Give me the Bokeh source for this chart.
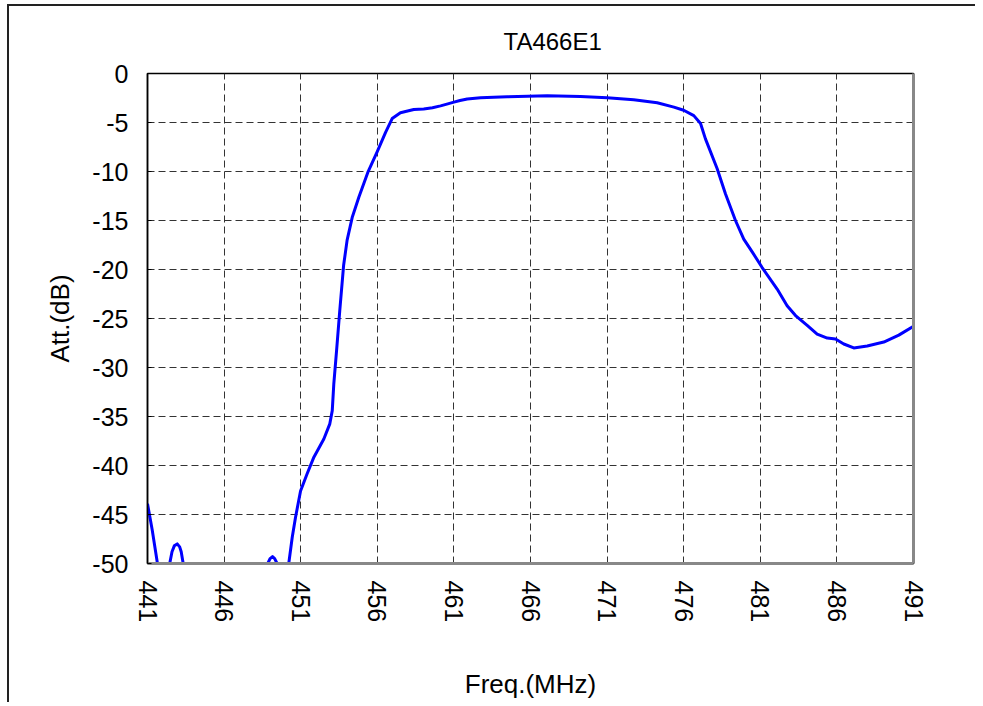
import math
from bokeh.plotting import figure
from bokeh.models import Range1d, FixedTicker, LinearAxis, ColumnDataSource
from bokeh.embed import file_html
from bokeh.resources import INLINE

# ---- data ----
freq_mhz = [441.0, 441.3, 441.65, 441.9, 442.15, 442.3, 442.45, 442.6, 442.75, 442.94,
            443.1, 443.2, 443.33, 443.5, 444.0, 446.0, 448.3, 448.6, 448.85, 449.0,
            449.16, 449.3, 449.46, 449.65, 449.95, 450.22, 450.45, 450.66, 450.99,
            451.42, 451.86, 452.51, 452.9, 453.06, 453.16, 453.34, 453.55, 453.8,
            454.03, 454.36, 454.8, 455.38, 455.99, 456.54, 456.97, 457.51, 458.38,
            459.03, 459.6, 460.13, 460.6, 461.0, 461.4, 461.87, 462.74, 463.6, 464.48,
            467.09, 469.26, 471.0, 472.74, 474.27, 475.36, 476.0, 476.66, 477.1,
            477.42, 478.18, 478.73, 479.38, 479.92, 480.47, 481.12, 482.1, 482.75,
            483.3, 484.06, 484.71, 485.37, 485.91, 486.45, 487.1, 487.98, 489.06,
            490.04, 491.0]
att_db = [-43.9, -46.5, -50.0, -52.5, -53.5, -52.5, -50.0, -48.8, -48.2, -48.0,
          -48.3, -48.8, -50.0, -53.0, -60.0, -64.0, -56.0, -52.5, -50.0, -49.5,
          -49.3, -49.5, -50.0, -52.5, -53.5, -50.0, -47.3, -45.3, -42.6,
          -40.85, -39.15, -37.3, -35.75, -34.4, -31.7, -28.3, -24.2, -19.6,
          -17.0, -14.7, -12.6, -10.1, -8.0, -6.0, -4.6, -4.0, -3.67,
          -3.62, -3.5, -3.3, -3.1, -2.92, -2.75, -2.6, -2.47, -2.42, -2.38,
          -2.28, -2.35, -2.48, -2.68, -2.99, -3.43, -3.75, -4.3, -5.1,
          -6.67, -9.7, -12.3, -15.0, -16.9, -18.2, -19.8, -22.0, -23.7,
          -24.7, -25.7, -26.6, -27.0, -27.1, -27.6, -28.0, -27.8, -27.4,
          -26.7, -25.8]

x_ticks = [441, 446, 451, 456, 461, 466, 471, 476, 481, 486, 491]
y_ticks = [-50, -45, -40, -35, -30, -25, -20, -15, -10, -5, 0]

FONT = "Liberation Sans"
TICK_FS = "25px"
LABEL_FS = "26px"
TITLE_FS = "24px"

src = ColumnDataSource(data=dict(f=freq_mhz, a=att_db))

p = figure(
    frame_width=766, frame_height=490,
    min_border_left=138, min_border_top=67, min_border_right=62, min_border_bottom=136,
    x_range=Range1d(x_ticks[0], x_ticks[-1]),
    y_range=Range1d(y_ticks[0], y_ticks[-1]),
    output_backend="svg", toolbar_location=None, title="TA466E1",
)
p.margin = (4, 0, 0, 7)
p.styles = {"border-top": "2px solid #222", "border-left": "2px solid #222"}
p.background_fill_color = "white"
p.border_fill_color = "white"
p.outline_line_color = "black"
p.outline_line_width = 1.5

p.title.text_font = FONT
p.title.text_font_size = TITLE_FS
p.title.text_font_style = "normal"
p.title.text_color = "black"
p.title.align = "left"
p.title.offset = 356
p.title.standoff = 38

# grid
for g in (p.xgrid, p.ygrid):
    g.grid_line_color = "#333333"
    g.grid_line_width = 1
    g.grid_line_dash = "7 4"
p.xgrid.ticker = FixedTicker(ticks=x_ticks)
p.ygrid.ticker = FixedTicker(ticks=y_ticks)

# bottom axis
xa = p.xaxis[0]
xa.ticker = FixedTicker(ticks=x_ticks)
xa.major_label_overrides = {t: str(t) for t in x_ticks}
xa.axis_line_color = "#888888"
xa.axis_line_width = 3
xa.major_tick_line_color = None
xa.minor_tick_line_color = None
xa.major_label_orientation = -math.pi / 2
xa.major_label_standoff = 11
xa.major_label_text_font = FONT
xa.major_label_text_font_size = TICK_FS
xa.major_label_text_color = "black"
xa.axis_label = "Freq.(MHz)"
xa.axis_label_text_font = FONT
xa.axis_label_text_font_size = LABEL_FS
xa.axis_label_text_font_style = "normal"
xa.axis_label_text_color = "black"
xa.axis_label_standoff = 44

# left axis
ya = p.yaxis[0]
ya.ticker = FixedTicker(ticks=y_ticks)
ya.major_label_overrides = {t: str(t) for t in y_ticks}
ya.axis_line_color = "black"
ya.axis_line_width = 1.5
ya.major_tick_in = 4
ya.major_tick_out = 0
ya.major_tick_line_color = "black"
ya.minor_tick_line_color = None
ya.major_label_standoff = 19
ya.major_label_text_font = FONT
ya.major_label_text_font_size = TICK_FS
ya.major_label_text_color = "black"
ya.axis_label = "Att.(dB)"
ya.axis_label_text_font = FONT
ya.axis_label_text_font_size = LABEL_FS
ya.axis_label_text_font_style = "normal"
ya.axis_label_text_color = "black"
ya.axis_label_standoff = 14

# right edge (gray shadow)
ra = LinearAxis(ticker=FixedTicker(ticks=[]), axis_line_color="#888888", axis_line_width=3,
                major_tick_line_color=None, minor_tick_line_color=None)
p.add_layout(ra, "right")

p.line("f", "a", source=src, line_color="#0000FF", line_width=3, line_join="round")

open("out.html", "w").write(file_html(p, INLINE))
